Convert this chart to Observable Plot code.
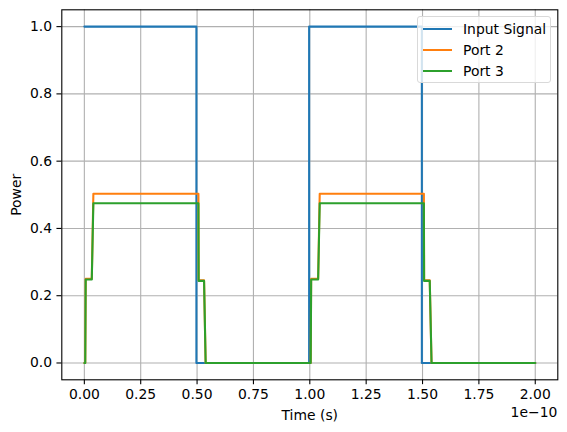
<!DOCTYPE html>
<html>
<head>
<meta charset="utf-8">
<script src="https://cdn.jsdelivr.net/npm/d3@7"></script>
<script src="https://cdn.jsdelivr.net/npm/@observablehq/plot@0.6"></script>
<style>
  html, body { margin: 0; padding: 0; background: #fff; }
  #wrap { position: relative; width: 567px; height: 432px; font-family: "DejaVu Sans", sans-serif; }
  #legend { position: absolute; left: 417px; top: 16px; width: 134px; height: 67px;
    border: 1px solid #d9d9d9; border-radius: 3px; background: rgba(255,255,255,0.8); box-sizing: border-box; }
  .row { position: absolute; left: 0; height: 20px; display: flex; align-items: center; font-size: 13.9px; color: #000; white-space: nowrap; }
  .row .sw { width: 29px; height: 2px; margin-left: 5px; margin-right: 11px; }
  #offset { position: absolute; right: 9.7px; top: 403.5px; font-size: 13.9px; color: #000; line-height: 16px; }
</style>
</head>
<body>
<div id="wrap"></div>
<script>
// Time in units of 1e-10 s
const inputTime  = [0, 0.497, 0.497, 0.997, 0.997, 1.497, 1.497, 2.0];
const inputPower = [1, 1,     0,     0,     1,     1,     0,     0];

const portTime   = [0, 0.004, 0.006, 0.033, 0.040, 0.506, 0.507, 0.531, 0.538, 1.0, 1.004, 1.006, 1.037, 1.044, 1.506, 1.507, 1.532, 1.540, 2.0];
const port2Power = [0, 0,     0.250, 0.250, 0.503, 0.503, 0.246, 0.246, 0,     0,   0,     0.250, 0.250, 0.503, 0.503, 0.246, 0.246, 0,     0];
const port3Power = [0, 0,     0.248, 0.248, 0.475, 0.475, 0.244, 0.244, 0,     0,   0,     0.248, 0.248, 0.475, 0.475, 0.244, 0.244, 0,     0];

const seriesNames  = ["Input Signal", "Port 2", "Port 3"];
const seriesColors = ["#1f77b4", "#ff7f0e", "#2ca02c"];
const xTicks = [0, 0.25, 0.5, 0.75, 1.0, 1.25, 1.5, 1.75, 2.0];
const yTicks = [0, 0.2, 0.4, 0.6, 0.8, 1.0];

const rows = [];
inputTime.forEach((t, i) => rows.push({series: seriesNames[0], t, p: inputPower[i]}));
portTime.forEach((t, i) => rows.push({series: seriesNames[1], t, p: port2Power[i]}));
portTime.forEach((t, i) => rows.push({series: seriesNames[2], t, p: port3Power[i]}));

const chart = Plot.plot({
  width: 567,
  height: 432,
  marginLeft: 61.3,
  marginRight: 9.7,
  marginTop: 9.3,
  marginBottom: 52.7,
  style: {fontFamily: "DejaVu Sans, sans-serif", fontSize: "13.9px", color: "#000", background: "#fff"},
  x: {domain: [-0.1, 2.1]},
  y: {domain: [-0.05, 1.05]},
  color: {domain: seriesNames, range: seriesColors},
  marks: [
    Plot.gridX(xTicks, {stroke: "#b0b0b0", strokeOpacity: 1, strokeWidth: 1.1}),
    Plot.gridY(yTicks, {stroke: "#b0b0b0", strokeOpacity: 1, strokeWidth: 1.1}),
    Plot.line(rows, {x: "t", y: "p", z: "series", stroke: "series", strokeWidth: 2.08, curve: "linear"}),
    Plot.frame({stroke: "#000", strokeWidth: 1.1}),
    Plot.axisX(xTicks, {tickFormat: d3.format(".2f"), tickSize: 4.86, tickPadding: 4.5, fontSize: 13.9, strokeWidth: 1.1,
      label: "Time (s)", labelAnchor: "center", labelArrow: "none", labelOffset: 40}),
    Plot.axisY(yTicks, {tickFormat: d3.format(".1f"), tickSize: 4.86, tickPadding: 4.86, fontSize: 13.9, strokeWidth: 1.1,
      label: "Power", labelAnchor: "center", labelArrow: "none", labelOffset: 51})
  ]
});

const wrap = document.getElementById("wrap");
wrap.appendChild(chart);

const legend = document.createElement("div");
legend.id = "legend";
seriesNames.forEach((name, i) => {
  const r = document.createElement("div");
  r.className = "row";
  r.style.top = (2 + i * 21) + "px";
  const sw = document.createElement("span");
  sw.className = "sw";
  sw.style.background = seriesColors[i];
  const tx = document.createElement("span");
  tx.textContent = name;
  r.appendChild(sw); r.appendChild(tx);
  legend.appendChild(r);
});
wrap.appendChild(legend);

const off = document.createElement("div");
off.id = "offset";
off.textContent = "1e\u221210";
wrap.appendChild(off);
</script>
</body>
</html>
